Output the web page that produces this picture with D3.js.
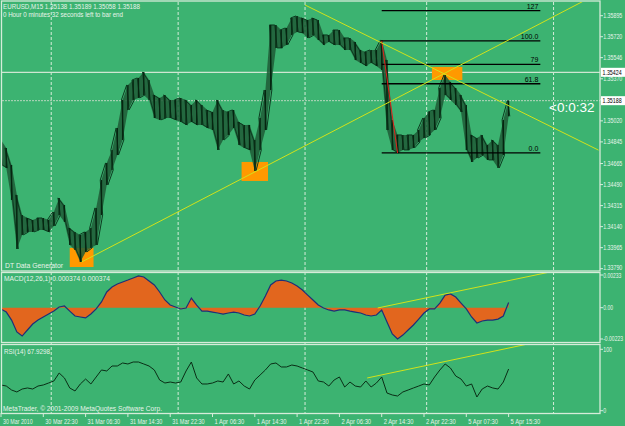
<!DOCTYPE html>
<html lang="en">
<head>
<meta charset="utf-8"/>
<title>EURUSD,M15</title>
<script src="https://cdn.jsdelivr.net/npm/d3@7"></script>
<style>
  body { margin: 0; background: #3cb371; }
  svg { display: block; font-family: "Liberation Sans", Arial, sans-serif; }
</style>
</head>
<body>
<div id="chart"></div>
<script>
// one sample every 4 M15 bars, bar index 0 = 30 Mar 14:30
const priceHi = [1.34861,1.34795,1.34653,1.34404,1.34237,1.34212,1.34196,1.34212,1.34212,1.34196,
  1.34262,1.34379,1.34320,1.34129,1.34096,1.34071,1.34096,1.34129,1.34296,1.34528,
  1.34670,1.34778,1.34961,1.35194,1.35319,1.35360,1.35377,1.35427,1.35360,1.35236,
  1.35211,1.35236,1.35194,1.35194,1.35211,1.35194,1.35152,1.35194,1.35152,1.35111,
  1.35094,1.35194,1.35111,1.35094,1.35111,1.35011,1.34986,1.34986,1.34861,1.35044,
  1.35277,1.35818,1.35818,1.35776,1.35793,1.35876,1.35893,1.35876,1.35859,1.35876,
  1.35859,1.35735,1.35735,1.35776,1.35776,1.35710,1.35710,1.35676,1.35610,1.35593,
  1.35610,1.35610,1.35693,1.35527,1.35028,1.34903,1.34903,1.34903,1.34903,1.34944,
  1.35044,1.35094,1.35111,1.35294,1.35402,1.35344,1.35294,1.35236,1.35152,1.34903,
  1.34878,1.34903,1.34820,1.34861,1.34820,1.35028,1.35189];
const priceLo = [1.34653,1.34628,1.34362,1.33954,1.34071,1.34096,1.34096,1.34112,1.34112,1.34096,
  1.34146,1.34237,1.34179,1.33988,1.33946,1.33846,1.33929,1.33963,1.33988,1.34237,
  1.34487,1.34612,1.34736,1.34861,1.35111,1.35194,1.35211,1.35236,1.35194,1.35044,
  1.35028,1.35044,1.35044,1.35028,1.35011,1.34986,1.35011,1.34986,1.34986,1.34961,
  1.34944,1.34778,1.34861,1.34903,1.34961,1.34820,1.34795,1.34778,1.34603,1.34778,
  1.34944,1.35277,1.35627,1.35627,1.35652,1.35735,1.35760,1.35751,1.35710,1.35735,
  1.35693,1.35652,1.35676,1.35652,1.35652,1.35610,1.35610,1.35527,1.35502,1.35477,
  1.35502,1.35477,1.35444,1.34944,1.34778,1.34753,1.34778,1.34778,1.34795,1.34844,
  1.34878,1.34903,1.34944,1.35044,1.35236,1.35194,1.35152,1.35094,1.34778,1.34678,
  1.34711,1.34736,1.34695,1.34695,1.34628,1.34736,1.35058];
const macd = [-0.00010,-0.00031,-0.00088,-0.00173,-0.00202,-0.00159,-0.00116,-0.00088,-0.00066,-0.00045,
  -0.00024,0.00005,0.00012,-0.00024,-0.00059,-0.00066,-0.00073,-0.00045,-0.00009,0.00041,
  0.00112,0.00147,0.00169,0.00183,0.00197,0.00212,0.00226,0.00219,0.00190,0.00162,
  0.00112,0.00055,0.00019,0.00005,-0.00009,-0.00002,0.00069,0.00019,-0.00024,-0.00024,
  -0.00031,-0.00038,-0.00045,-0.00038,-0.00031,-0.00038,-0.00052,-0.00059,-0.00045,0.00012,
  0.00083,0.00162,0.00190,0.00197,0.00190,0.00176,0.00155,0.00126,0.00090,0.00055,
  0.00019,-0.00002,-0.00016,-0.00024,-0.00016,-0.00016,-0.00024,-0.00031,-0.00038,-0.00052,
  -0.00059,-0.00052,-0.00016,-0.00102,-0.00187,-0.00223,-0.00195,-0.00159,-0.00123,-0.00081,
  -0.00038,-0.00009,-0.00009,0.00033,0.00090,0.00098,0.00076,0.00033,-0.00009,-0.00066,
  -0.00109,-0.00095,-0.00088,-0.00088,-0.00081,-0.00059,0.00037];
const rsi = [41.9,40.2,33.7,30.5,35.3,37.0,35.3,40.2,41.9,45.1,
  48.4,61.4,53.3,37.0,32.1,43.5,51.6,43.5,54.9,66.3,
  64.7,72.8,72.8,77.7,76.1,79.3,79.3,76.1,72.8,66.3,
  50.0,45.1,46.7,45.1,46.7,64.7,79.3,53.3,43.5,43.5,
  45.1,48.4,46.7,59.8,43.5,48.4,40.2,35.3,50.0,58.1,
  66.3,76.1,77.7,71.2,71.2,74.4,72.8,69.5,66.3,63.0,
  48.4,46.7,40.2,50.0,54.9,38.6,46.7,40.2,38.6,48.4,
  38.6,45.1,54.9,28.8,25.6,23.9,30.5,33.7,37.0,40.2,
  43.5,41.9,54.9,66.3,76.1,69.5,56.5,51.6,40.2,43.5,
  22.3,35.3,40.2,37.0,35.3,46.7,67.9];

const timeLabels = ["30 Mar 2010","30 Mar 22:30","31 Mar 06:30","31 Mar 14:30","31 Mar 22:30",
  "1 Apr 06:30","1 Apr 14:30","1 Apr 22:30","2 Apr 06:30","2 Apr 14:30","2 Apr 22:30",
  "5 Apr 07:30","5 Apr 15:30"];
const timeLabelBar = [0,32,64,96,128,160,192,224,256,288,320,352,384];
const daySeparators = [38,134,230,322,418];

const priceTicks = [1.35895,1.35720,1.35546,1.35370,1.35195,1.35020,1.34845,1.34665,
  1.34490,1.34315,1.34140,1.33965,1.33790];
const macdTicks = [0.00233,0,-0.00223];
const macdTickText = ["0.00233","0.00","-0.00223"];
const rsiTicks = [100,0];

const hLines = [1.35424,1.35188];
const fibLevels = [127,100,79,61.8,0];
const fibText = ["127","100.0","79","61.8","0.0"];
const fibHigh = 1.35685, fibLow = 1.34753, fibBars = [288,408];
const redLine = [[288,1.35685],[300,1.34753]];
const trendUp = [[61,1.33846],[192,1.34595]];
const trendDown = [[230,1.35984],[337,1.35402]];
const macdTrend = [[285,-0.00002],[408,0.00240]];
const rsiTrend = [[277,53.3],[395,107]];
// orange boxes: [bar from, bar to, price low, price high]
const boxes = [[52,70,1.33804,1.33963],[182,202,1.34520,1.34678],[326,349,1.35360,1.35469]];

const W = 625, H = 426;
const svg = d3.select("#chart").append("svg").attr("width", W).attr("height", H);
svg.append("rect").attr("width", W).attr("height", H).attr("fill", "#3cb371");

const x = d3.scaleLinear().domain([0, 452]).range([1, 598.5]);
const yP = d3.scaleLinear().domain([1.33790, 1.35895]).range([268.7, 15.7]);
const yM = d3.scaleLinear().domain([-0.00223, 0.00233]).range([339, 275]);
const yR = d3.scaleLinear().domain([0, 100]).range([410.7, 349.3]);
const barOf = k => k * 4;

const panels = [{id: "cm", y0: 2, y1: 271}, {id: "cd", y0: 273, y1: 342}, {id: "cr", y0: 345, y1: 413}];
const defs = svg.append("defs");
panels.forEach(p => defs.append("clipPath").attr("id", p.id)
  .append("rect").attr("x", 2).attr("y", p.y0).attr("width", 598).attr("height", p.y1 - p.y0));

const light = "#d6ecd9", yellow = "#d2e21a", ink = "#0c3b20";

// day separators
svg.append("g").selectAll("line").data(daySeparators).join("line")
  .attr("x1", d => x(d)).attr("x2", d => x(d)).attr("y1", 2).attr("y2", 413)
  .attr("stroke", light).attr("stroke-dasharray", "3,2").attr("stroke-width", 1);

// ---- main panel
const gm = svg.append("g").attr("clip-path", "url(#cm)");
gm.append("line").attr("x1", 2).attr("x2", 600).attr("y1", yP(hLines[0])).attr("y2", yP(hLines[0]))
  .attr("stroke", "#cfe6d2").attr("stroke-width", 1.2);
gm.append("line").attr("x1", 2).attr("x2", 600).attr("y1", yP(hLines[1])).attr("y2", yP(hLines[1]))
  .attr("stroke", "#b9d6bf").attr("stroke-width", 1).attr("stroke-dasharray", "2,1");

gm.selectAll("rect.box").data(boxes).join("rect").attr("class", "box")
  .attr("x", d => x(d[0])).attr("width", d => x(d[1]) - x(d[0]))
  .attr("y", d => yP(d[3])).attr("height", d => yP(d[2]) - yP(d[3]))
  .attr("fill", "#ff9900");

// bar range band, then a thin zigzag and a stroke per sample for texture
const band = d3.area().x((d, k) => x(barOf(k))).y0((d, k) => yP(priceLo[k])).y1(d => yP(d));
gm.append("path").datum(priceHi).attr("d", band).attr("fill", "#1f5a36").attr("opacity", 0.85);
const zig = [];
priceHi.forEach((h, k) => {
  const a = [x(barOf(k)) - 1.2, yP(h)], b = [x(barOf(k)) + 1.2, yP(priceLo[k])];
  if (k % 2) zig.push(b, a); else zig.push(a, b);
});
gm.append("path").attr("d", d3.line()(zig)).attr("fill", "none")
  .attr("stroke", ink).attr("stroke-width", 1).attr("stroke-linejoin", "bevel");
gm.selectAll("line.bar").data(priceHi).join("line").attr("class", "bar")
  .attr("x1", (d, k) => x(barOf(k))).attr("x2", (d, k) => x(barOf(k)))
  .attr("y1", d => yP(d)).attr("y2", (d, k) => yP(priceLo[k]))
  .attr("stroke", "#062510").attr("stroke-width", 1.3);

// fibonacci
fibLevels.forEach((lv, i) => {
  const p = fibLow + (fibHigh - fibLow) * lv / 100;
  gm.append("line").attr("x1", x(fibBars[0])).attr("x2", x(fibBars[1]))
    .attr("y1", yP(p)).attr("y2", yP(p)).attr("stroke", "#000").attr("stroke-width", 1.3);
  gm.append("text").attr("x", x(fibBars[1]) - 2).attr("y", yP(p) - 2)
    .attr("text-anchor", "end").attr("font-size", 7).attr("fill", "#000").text(fibText[i]);
});
gm.append("line").attr("x1", x(redLine[0][0])).attr("y1", yP(redLine[0][1]))
  .attr("x2", x(redLine[1][0])).attr("y2", yP(redLine[1][1])).attr("stroke", "#e0201a");

function ray(g, pts, ys, end) {
  const s = (pts[1][1] - pts[0][1]) / (pts[1][0] - pts[0][0]);
  g.append("line").attr("x1", x(pts[0][0])).attr("y1", ys(pts[0][1]))
    .attr("x2", x(end)).attr("y2", ys(pts[0][1] + s * (end - pts[0][0])))
    .attr("stroke", yellow).attr("stroke-width", 1);
}
ray(gm, trendUp, yP, 452);
ray(gm, trendDown, yP, 452);

// ---- MACD
const gd = svg.append("g").attr("clip-path", "url(#cd)");
const macdArea = d3.area().x((d, k) => x(barOf(k))).y0(yM(0)).y1(d => yM(d));
gd.append("path").datum(macd).attr("d", macdArea).attr("fill", "#e2661e");
gd.append("path").datum(macd).attr("d", d3.line().x((d, k) => x(barOf(k))).y(d => yM(d)))
  .attr("fill", "none").attr("stroke", "#1f2f78").attr("stroke-width", 1.2);
ray(gd, macdTrend, yM, 420);

// ---- RSI
const gr = svg.append("g").attr("clip-path", "url(#cr)");
gr.append("path").datum(rsi).attr("d", d3.line().x((d, k) => x(barOf(k))).y(d => yR(d)))
  .attr("fill", "none").attr("stroke", "#0a2e16").attr("stroke-width", 1);
ray(gr, rsiTrend, yR, 410);

// ---- frames
[[1, 271], [272.5, 342.5], [344.5, 413.5]].forEach(([a, b]) =>
  svg.append("rect").attr("x", 1.5).attr("y", a).attr("width", 598.5).attr("height", b - a)
    .attr("fill", "none").attr("stroke", light).attr("stroke-width", 1.3));

// ---- right axes (text squeezed horizontally like the terminal's pixel font)
const axText = (data, ys, fmt, sx, nudge) => {
  const t = svg.append("g").selectAll("g").data(data).join("g")
    .attr("transform", d => `translate(600,${ys(d)})`);
  t.append("line").attr("x2", 3).attr("stroke", light);
  t.append("text").attr("transform", (d, i) => `translate(3.2,${nudge(i)}) scale(${sx},1)`)
    .attr("dy", "0.35em").attr("font-size", 6.6).attr("fill", "#e8f4ea").text(fmt);
};
axText(priceTicks, yP, d => d.toFixed(5), 0.8, i => i === priceTicks.length - 1 ? -0.8 : 0);
axText(macdTicks, yM, (d, i) => macdTickText[i], 0.76, i => i === 0 ? 1 : 0);
axText(rsiTicks, yR, d => d, 0.8, () => 0);

hLines.forEach(p => {
  svg.append("rect").attr("x", 601).attr("y", yP(p) - 4.5).attr("width", 24).attr("height", 9)
    .attr("fill", "#ffffff");
  svg.append("text").attr("transform", `translate(602.5,${yP(p)}) scale(0.78,1)`).attr("dy", "0.35em")
    .attr("font-size", 6.8).attr("fill", "#000").text(p.toFixed(5));
});

// ---- time axis
const fit = (sel, w) => sel.attr("textLength", w).attr("lengthAdjust", "spacingAndGlyphs");
const ta = svg.append("g").selectAll("g").data(timeLabelBar).join("g")
  .attr("transform", d => `translate(${x(d)},413)`);
ta.append("line").attr("y2", 4).attr("stroke", light);
ta.append("text").attr("x", 2).attr("y", 10.5).attr("font-size", 6.4).attr("fill", "#e8f4ea")
  .text((d, i) => timeLabels[i])
  .each(function () { fit(d3.select(this), this.textContent.length * 2.7); });

// ---- labels
const lab = (t, lx, ly, size, w, fill) => {
  const s = svg.append("text").attr("x", lx).attr("y", ly)
    .attr("font-size", size).attr("fill", fill || "#e8f4ea").text(t);
  if (w) fit(s, w);
};
lab("EURUSD,M15  1.35138 1.35189 1.35058 1.35188", 3, 9, 7, 137);
lab("0 Hour 0 minutes 32 seconds left to bar end", 3, 17, 7, 120);
lab("DT Data Generator", 5, 268, 7.2, 58);
lab("MACD(12,26,1) 0.000374 0.000374", 4, 281, 7, 106);
lab("RSI(14) 67.9298", 4, 354, 7, 46);
lab("MetaTrader, \u00a9 2001-2009 MetaQuotes Software Corp.", 3, 411, 7, 159);
lab("<0:0:32", 549, 112, 13.5, null, "#ffffff");
</script>
</body>
</html>
